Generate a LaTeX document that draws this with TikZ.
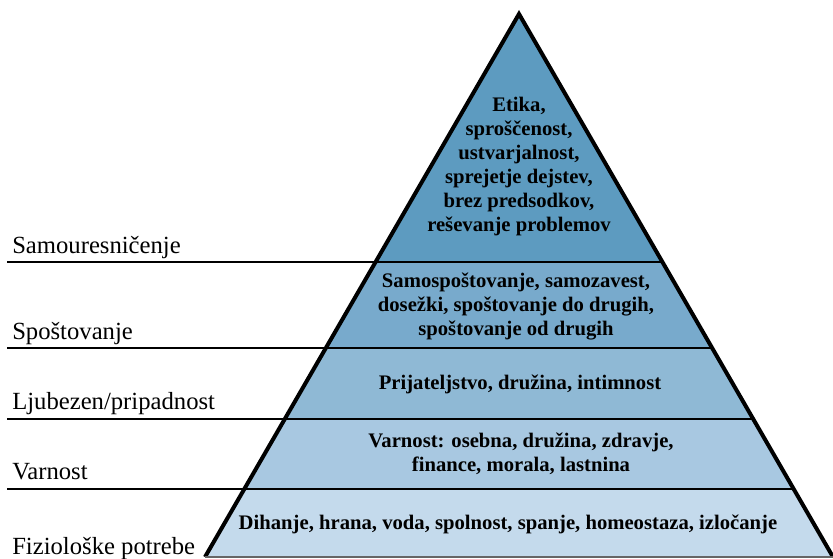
\documentclass[tikz,border=0pt]{standalone}
\usepackage{fontspec}
\setmainfont{Liberation Serif}
\usepackage{tikz}
\usetikzlibrary{positioning}
\definecolor{lvlone}{RGB}{93,155,192}
\definecolor{lvltwo}{RGB}{120,170,204}
\definecolor{lvlthree}{RGB}{143,185,213}
\definecolor{lvlfour}{RGB}{168,200,225}
\definecolor{lvlfive}{RGB}{196,218,236}

\begin{document}
\begin{tikzpicture}[
    x=0.75pt, y=-0.75pt,
    inner/.style={align=center, font=\fontsize{15.5}{18}\selectfont\bfseries, inner sep=0pt},
    tag/.style={anchor=base west, font=\fontsize{18.5}{20}\selectfont, inner sep=0pt},
    tagline/.style={line width=0.8pt},
    bandline/.style={line width=1.8pt},
    side/.style={line width=3pt, line join=miter}
]
    \useasboundingbox (0,0) rectangle (833,559);
    \coordinate (apex) at (519,14);
    \coordinate (baseL) at (205,557);
    \coordinate (baseR) at (833,557);

    % lines under the left labels
    \foreach \yy in {262,348,419,489}
        \draw[tagline] (7,\yy) -- (519,\yy);

    % pyramid bands
    \begin{scope}
        \clip (apex) -- (baseL) -- (baseR) -- cycle;
        \fill[lvlone] (0,0) rectangle (833,262);
        \fill[lvltwo] (0,262) rectangle (833,348);
        \fill[lvlthree] (0,348) rectangle (833,419);
        \fill[lvlfour] (0,419) rectangle (833,489);
        \fill[lvlfive] (0,489) rectangle (833,559);
        \foreach \yy in {262,348,419,489}
            \draw[bandline] (0,\yy) -- (833,\yy);
    \end{scope}
    \draw[side] (baseL) -- (apex) -- (baseR);
    \draw[line width=1pt, black!60] (baseL) -- (baseR);

    % texts in the pyramid
    \node[inner] (selfact) at (519,167) {Etika,\\ sproščenost,\\ ustvarjalnost,\\ sprejetje dejstev,\\ brez predsodkov,\\ reševanje problemov};
    \node[inner] (esteem) at (516,306) {Samospoštovanje, samozavest,\\ dosežki, spoštovanje do drugih,\\ spoštovanje od drugih};
    \node[inner] (love) at (520,384) {Prijateljstvo, družina, intimnost};
    \node[inner] (safety) at (521,454) {Varnost: osebna, družina, zdravje,\\ finance, morala, lastnina};
    \node[inner] (physio) at (508,524) {Dihanje, hrana, voda, spolnost, spanje, homeostaza, izločanje};

    % left labels
    \node[tag] (tselfact) at (12,254) {Samouresničenje};
    \node[tag] (testeem) at (12,340) {Spoštovanje};
    \node[tag] (tlove) at (12,410) {Ljubezen/pripadnost};
    \node[tag] (tsafety) at (12,480) {Varnost};
    \node[tag] (tphysio) at (12,555) {Fiziološke potrebe};
\end{tikzpicture}
\end{document}
